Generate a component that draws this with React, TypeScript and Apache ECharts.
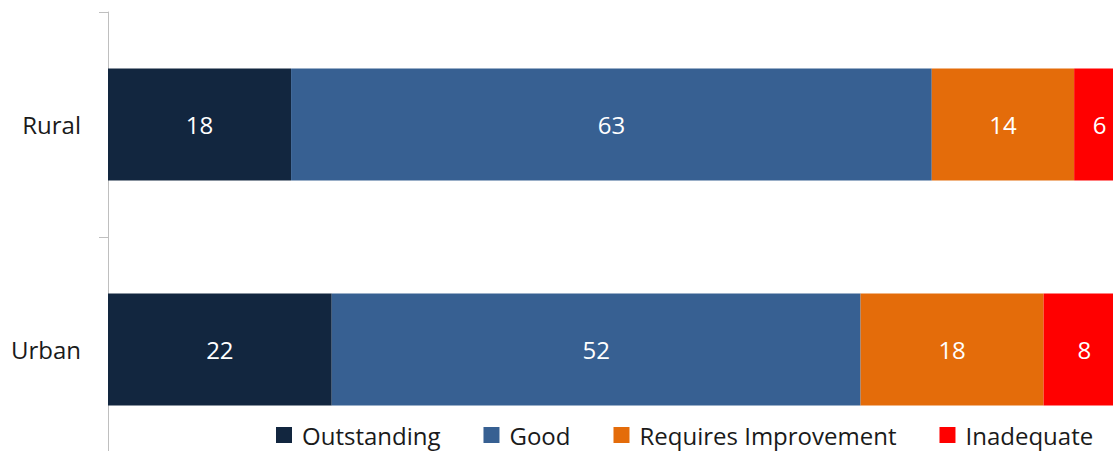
import React, { useEffect, useRef } from "react";
import * as echarts from "echarts";

const categories = ["Rural", "Urban"];
const outstanding = [18, 22];
const good = [63, 52];
const requiresImprovement = [14, 18];
const inadequate = [6, 8];

const seriesDefs = [
  { name: "Outstanding", data: outstanding, color: "#12263F" },
  { name: "Good", data: good, color: "#376092" },
  { name: "Requires Improvement", data: requiresImprovement, color: "#E46C0A" },
  { name: "Inadequate", data: inadequate, color: "#FF0000" },
];

const FONT = "'Open Sans', sans-serif";

export default function App() {
  const ref = useRef<HTMLDivElement>(null);
  useEffect(() => {
    if (!ref.current) return;
    const chart = echarts.init(ref.current, undefined, { renderer: "svg" });
    chart.setOption({
      animation: false,
      grid: {
        left: 108,
        top: 12,
        width: 1017,
        height: 450,
        containLabel: false,
        outerBoundsMode: "none",
      },
      xAxis: {
        type: "value",
        min: 0,
        max: 100,
        show: false,
      },
      yAxis: {
        type: "category",
        data: categories,
        inverse: true,
        axisLine: { show: true, lineStyle: { color: "#BFBFBF", width: 1 } },
        axisTick: { show: true, length: 9, lineStyle: { color: "#BFBFBF" } },
        axisLabel: { fontFamily: FONT, fontSize: 24, color: "#1a1a1a", margin: 27 },
      },
      legend: {
        left: 276,
        top: 423,
        padding: 0,
        icon: "rect",
        itemWidth: 16,
        itemHeight: 16,
        itemGap: 43,
        textStyle: {
          fontFamily: FONT,
          fontSize: 24,
          lineHeight: 24,
          color: "#1a1a1a",
          padding: [0, 0, 0, 5],
        },
        data: seriesDefs.map((s) => s.name),
      },
      series: seriesDefs.map((s) => ({
        name: s.name,
        type: "bar",
        stack: "total",
        barWidth: 112,
        data: s.data,
        itemStyle: { color: s.color },
        label: {
          show: true,
          position: "inside",
          color: "#FFFFFF",
          fontFamily: FONT,
          fontSize: 24,
        },
      })),
    });
    return () => chart.dispose();
  }, []);
  return (
    <div
      ref={ref}
      style={{ position: "fixed", left: 0, top: 0, width: 1113, height: 451, background: "#fff" }}
    />
  );
}
